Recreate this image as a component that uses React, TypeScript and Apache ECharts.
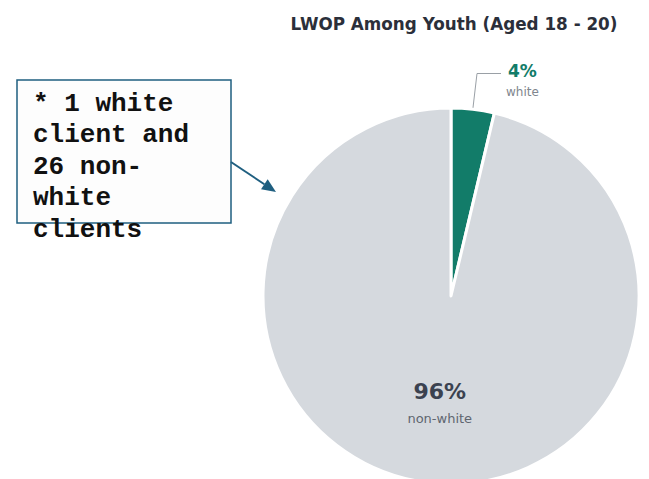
import React, { useEffect, useRef } from "react";
import * as echarts from "echarts";

const TITLE = "LWOP Among Youth (Aged 18 - 20)";
const CATEGORIES = ["white", "non-white"];
const COUNTS = [1, 26];
const COLORS = ["#127c69", "#d5d9de"];
const NOTE_LINES = ["* 1 white", "client and", "26 non-", "white", "clients"];

export default function App() {
  const ref = useRef<HTMLDivElement>(null);
  useEffect(() => {
    document.body.style.margin = "0";
    const chart = echarts.init(ref.current!, null, { renderer: "svg" });
    const total = COUNTS.reduce((a, b) => a + b, 0);
    const data = CATEGORIES.map((name, i) => ({
      name,
      value: COUNTS[i],
      itemStyle: { color: COLORS[i] },
      label:
        i === 0
          ? {
              position: "outside",
              padding: [14, 0, 0, 0],
              formatter: (p: any) =>
                `{a|${Math.round((p.value / total) * 100)}%}\n{b|${p.name}}`,
              rich: {
                a: { fontSize: 17, fontWeight: "bold", color: "#127c69", lineHeight: 22, align: "center", fontFamily: "DejaVu Sans" },
                b: { fontSize: 12, color: "#80868e", lineHeight: 20, align: "center", fontFamily: "DejaVu Sans" },
              },
            }
          : {
              position: "inside",
              formatter: (p: any) =>
                `{a|${Math.round((p.value / total) * 100)}%}\n{b|${p.name}}`,
              rich: {
                a: { fontSize: 22, fontWeight: "bold", color: "#3b4250", lineHeight: 30, align: "center", fontFamily: "DejaVu Sans" },
                b: { fontSize: 13, color: "#5f6670", lineHeight: 23, align: "center", fontFamily: "DejaVu Sans" },
              },
            },
      labelLine: i === 0 ? { show: true, length: 36, length2: 24, lineStyle: { color: "#9aa0a6", width: 1 } } : { show: false },
    }));

    // arrow geometry
    const sx = 231, sy = 162, tx = 276, ty = 192;
    const len = Math.hypot(tx - sx, ty - sy);
    const ux = (tx - sx) / len, uy = (ty - sy) / len;
    const hl = 14, hw = 6;
    const bx = tx - ux * hl, by = ty - uy * hl;

    chart.setOption({
      animation: false,
      backgroundColor: "#ffffff",
      title: {
        text: TITLE,
        left: 449,
        top: 10,
        textAlign: "center",
        textStyle: { fontSize: 16.8, fontWeight: "bold", color: "#2b2f3a", fontFamily: "DejaVu Sans" },
      },
      series: [
        {
          type: "pie",
          center: [451, 296],
          radius: 188,
          startAngle: 90,
          clockwise: true,
          avoidLabelOverlap: false,
          itemStyle: { borderColor: "#ffffff", borderWidth: 3 },
          labelLayout: (params: any) => {
            if (params.dataIndex === 1) return { dy: 11 };
            return {};
          },
          data,
        },
      ],
      graphic: [
        {
          type: "rect",
          shape: { x: 17, y: 80, width: 214, height: 143 },
          style: { fill: "#fdfdfd", stroke: "#1f5f80", lineWidth: 1.5 },
          z: 10,
        },
        {
          type: "text",
          x: 33,
          y: 88,
          style: {
            text: NOTE_LINES.join("\n"),
            font: "bold 26px 'Liberation Mono', monospace",
            lineHeight: 31.5,
            fill: "#111111",
          },
          z: 11,
        },
        {
          type: "line",
          shape: { x1: sx, y1: sy, x2: bx, y2: by },
          style: { stroke: "#1f5f80", lineWidth: 2 },
          z: 10,
        },
        {
          type: "polygon",
          shape: {
            points: [
              [tx, ty],
              [bx - uy * hw, by + ux * hw],
              [bx + uy * hw, by - ux * hw],
            ],
          },
          style: { fill: "#1f5f80" },
          z: 10,
        },
      ],
    });
    return () => chart.dispose();
  }, []);
  return <div ref={ref} style={{ width: 649, height: 479 }} />;
}
